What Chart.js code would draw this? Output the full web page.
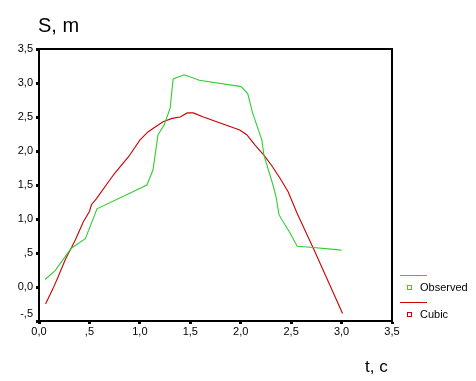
<!DOCTYPE html>
<html>
<head>
<meta charset="utf-8">
<script src="https://cdn.jsdelivr.net/npm/chart.js@4/dist/chart.umd.min.js"></script>
<style>
  html, body { margin: 0; padding: 0; background: #fff; }
  #wrap { position: relative; width: 476px; height: 381px; overflow: hidden; font-family: "Liberation Sans", Arial, sans-serif; }
  #c { position: absolute; left: 0; top: 0; }
  .t { position: absolute; color: #000; white-space: nowrap; }
  #ytitle { left: 38px; top: 14px; font-size: 20px; }
  #xtitle { left: 365px; top: 357px; font-size: 17px; }
  .lg-line { position: absolute; height: 1px; width: 27px; left: 400px; }
  .lg-box { position: absolute; width: 3px; height: 3px; left: 407px; border: 1px solid; }
  .lg-text { position: absolute; left: 420px; font-size: 11px; line-height: 12px; }
</style>
</head>
<body>
<div id="wrap">
  <canvas id="c" width="476" height="381"></canvas>
  <div class="t" id="ytitle">S, m</div>
  <div class="t" id="xtitle">t, c</div>
  <div class="lg-line" style="top:275px;background:#33cc33"></div>
  <div class="lg-box" style="top:285px;border-color:#33cc33"></div>
  <div class="t lg-text" style="top:281px">Observed</div>
  <div class="lg-line" style="top:302px;background:#cc0000"></div>
  <div class="lg-box" style="top:312px;border-color:#cc0000"></div>
  <div class="t lg-text" style="top:308px">Cubic</div>
</div>
<script>
// Data
const observedT = [0.06, 0.16, 0.32, 0.46, 0.575, 1.07, 1.13, 1.18, 1.24, 1.30, 1.33, 1.44, 1.59, 1.99, 2.01, 2.07, 2.12, 2.21, 2.23, 2.32, 2.35, 2.38, 2.49, 2.56, 2.72, 2.95, 3.0];
const observedS = [0.11, 0.24, 0.57, 0.71, 1.15, 1.50, 1.72, 2.24, 2.38, 2.63, 3.06, 3.12, 3.04, 2.95, 2.94, 2.84, 2.55, 2.16, 1.94, 1.50, 1.33, 1.06, 0.79, 0.60, 0.58, 0.55, 0.54];
const cubicT = [0.065, 0.14, 0.19, 0.26, 0.36, 0.44, 0.50, 0.52, 0.57, 0.70, 0.75, 0.89, 1.0, 1.08, 1.13, 1.23, 1.32, 1.40, 1.47, 1.53, 1.63, 1.99, 2.06, 2.14, 2.23, 2.31, 2.39, 2.47, 2.56, 2.72, 3.01];
const cubicS = [-0.25, -0.02, 0.15, 0.40, 0.69, 0.96, 1.11, 1.21, 1.30, 1.57, 1.67, 1.92, 2.16, 2.28, 2.33, 2.43, 2.48, 2.50, 2.56, 2.56, 2.50, 2.31, 2.24, 2.09, 1.94, 1.78, 1.60, 1.40, 1.08, 0.57, -0.39];
const xTickValues = [0, 0.5, 1.0, 1.5, 2.0, 2.5, 3.0, 3.5];
const xTickLabels = ["0,0", ",5", "1,0", "1,5", "2,0", "2,5", "3,0", "3,5"];
const yTickValues = [-0.5, 0, 0.5, 1.0, 1.5, 2.0, 2.5, 3.0, 3.5];
const yTickLabels = ["-,5", "0,0", ",5", "1,0", "1,5", "2,0", "2,5", "3,0", "3,5"];

const toPts = (xs, ys) => xs.map((x, i) => ({ x: x, y: ys[i] }));
const labelFor = (vals, labels) => (v) => {
  const i = vals.findIndex(t => Math.abs(t - v) < 1e-6);
  return i >= 0 ? labels[i] : "";
};
const yLabel = labelFor(yTickValues, yTickLabels);

const boxPlugin = {
  id: 'box',
  afterDraw(chart) {
    const a = chart.chartArea, ctx = chart.ctx;
    ctx.save();
    ctx.strokeStyle = '#000';
    ctx.lineWidth = 2;
    ctx.beginPath();
    ctx.moveTo(a.left, a.top);
    ctx.lineTo(a.right, a.top);
    ctx.lineTo(a.right, a.bottom);
    ctx.stroke();
    ctx.restore();
  }
};

new Chart(document.getElementById('c'), {
  type: 'scatter',
  data: {
    datasets: [
      { label: 'Observed', data: toPts(observedT, observedS), showLine: true, borderColor: '#33cc33', backgroundColor: '#33cc33', borderWidth: 1.1, pointRadius: 0, tension: 0 },
      { label: 'Cubic', data: toPts(cubicT, cubicS), showLine: true, borderColor: '#cc0000', backgroundColor: '#cc0000', borderWidth: 1.1, pointRadius: 0, tension: 0 }
    ]
  },
  options: {
    responsive: false,
    animation: false,
    devicePixelRatio: 1,
    layout: { padding: { left: 0, top: 49, right: 84, bottom: 0 } },
    plugins: { legend: { display: false }, tooltip: { enabled: false } },
    scales: {
      x: {
        type: 'linear', min: 0, max: 3.5,
        afterBuildTicks: (s) => { s.ticks = xTickValues.map(v => ({ value: v })); },
        afterFit: (s) => { s.height = 60; },
        border: { display: true, color: '#000', width: 2 },
        grid: { drawOnChartArea: false, drawTicks: true, tickLength: 3, tickWidth: 3, tickColor: '#000' },
        ticks: { color: '#000', padding: 1, maxRotation: 0, autoSkip: false, font: { family: 'Liberation Sans', size: 11 }, callback: labelFor(xTickValues, xTickLabels) }
      },
      y: {
        type: 'linear', min: -0.5, max: 3.5,
        afterBuildTicks: (s) => { s.ticks = yTickValues.map(v => ({ value: v })); },
        afterFit: (s) => { s.width = 39; },
        border: { display: true, color: '#000', width: 2 },
        grid: { drawOnChartArea: false, drawTicks: true, tickLength: 3, tickWidth: 3, tickColor: '#000' },
        ticks: { color: '#000', padding: 3, autoSkip: false, font: { family: 'Liberation Sans', size: 11 },
          callback: (v) => (Math.abs(v - yTickValues[0]) < 1e-6 ? [yLabel(v), ""] : yLabel(v)) }
      }
    }
  },
  plugins: [boxPlugin]
});
</script>
</body>
</html>
